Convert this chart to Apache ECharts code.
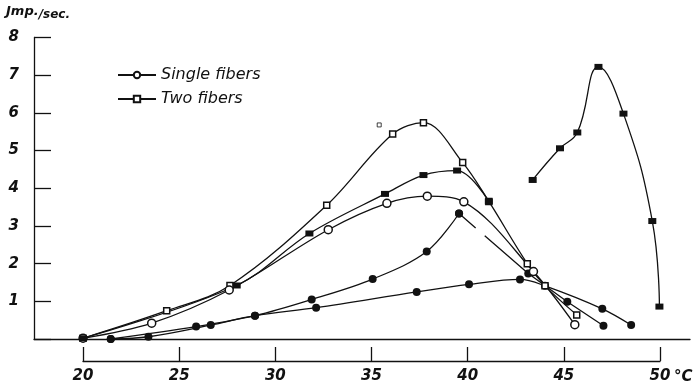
<!DOCTYPE html>
<html>
<head>
<meta charset="utf-8">
<script src="https://cdn.jsdelivr.net/npm/echarts@6/dist/echarts.min.js"></script>
<style>
  html, body { margin: 0; background: #fff; }
  #chart { width: 693px; height: 384px; }
</style>
</head>
<body>
<div id="chart"></div>
<script>
// temperature ticks (°C) and impulse ticks
const xTicks = [20, 25, 30, 35, 40, 45, 50];
const yTicks = [1, 2, 3, 4, 5, 6, 7, 8];

// two fibers, open squares (tallest curve)
const twoFibers = [[20, 0.02], [24.35, 0.75], [27.64, 1.42], [32.67, 3.55], [36.1, 5.44], [37.7, 5.74],
  [39.74, 4.68], [41.1, 3.65], [43.1, 2.0], [44.02, 1.41], [45.67, 0.64]];
// filled squares, peak ~4.5
const twoFibersB = [[20, 0.02], [27.99, 1.42], [31.77, 2.8], [35.7, 3.85], [37.7, 4.35], [39.45, 4.47], [41.1, 3.65]];
// single fibers, open circles
const singleFibers = [[20, 0.02], [23.57, 0.42], [27.6, 1.3], [32.75, 2.9], [35.8, 3.6], [37.9, 3.79],
  [39.8, 3.64], [43.42, 1.79], [45.57, 0.38]];
// filled circles, peak ~3.3 then the broken descent
const curveD = [[21.44, 0], [25.88, 0.33], [28.94, 0.62], [31.89, 1.05], [35.06, 1.59], [37.87, 2.32], [39.55, 3.33]];
const curveDTail = [[39.55, 3.33], [43.15, 1.74], [45.18, 0.99], [47.06, 0.35]];
// filled circles, flat curve
const curveE = [[21.44, 0], [23.4, 0.06], [26.64, 0.37], [28.94, 0.62], [32.12, 0.83], [37.35, 1.25],
  [40.07, 1.45], [42.72, 1.58], [44.02, 1.41], [47.0, 0.8], [48.5, 0.37]];
// filled squares, right-hand peak ~7.2
const curveF = [[43.38, 4.22], [44.8, 5.06], [45.7, 5.48], [46.8, 7.22], [48.1, 5.98], [49.6, 3.13], [49.97, 0.86]];
const strayPoint = [[35.4, 5.68]];

const ink = '#111';
const labelFont = {color: ink, fontFamily: 'DejaVu Sans', fontWeight: 'bold', fontStyle: 'italic', fontSize: 15};

const openSquare = {symbol: 'rect', symbolSize: 6, itemStyle: {color: '#fff', borderColor: ink, borderWidth: 1.5}};
const filledRect = {symbol: 'rect', symbolSize: [8, 6], itemStyle: {color: ink}};
const openCircle = {symbol: 'circle', symbolSize: 8, itemStyle: {color: '#fff', borderColor: ink, borderWidth: 1.5}};
const filledCircle = {symbol: 'circle', symbolSize: 8, itemStyle: {color: ink}};

function curve(name, data, marker, extra) {
  return Object.assign({
    name, type: 'line', data, smooth: 0.35, showAllSymbol: true,
    lineStyle: {color: ink, width: 1.3}
  }, marker, extra || {});
}

const chart = echarts.init(document.getElementById('chart'));
chart.setOption({
  animation: false,
  backgroundColor: '#fff',
  grid: [
    {left: 34, right: 3, top: 37.5, bottom: 45},
    {left: 83, right: 33, top: 349, bottom: 21}
  ],
  xAxis: [
    {
      gridIndex: 0, type: 'value', min: 17.45, max: 51.56,
      axisLine: {lineStyle: {color: ink, width: 1.3}},
      axisTick: {show: false}, axisLabel: {show: false}, splitLine: {show: false}
    },
    {
      gridIndex: 1, type: 'value', min: xTicks[0], max: xTicks[xTicks.length - 1], interval: 5,
      axisLine: {lineStyle: {color: ink, width: 1.3}},
      axisTick: {inside: true, length: 14, lineStyle: {color: ink, width: 1.3}},
      axisLabel: Object.assign({margin: 8}, labelFont),
      splitLine: {show: false}
    }
  ],
  yAxis: [
    {
      gridIndex: 0, type: 'value', min: 0, max: yTicks[yTicks.length - 1], interval: 1,
      axisLine: {show: true, lineStyle: {color: ink, width: 1.3}},
      axisTick: {inside: true, length: 17, lineStyle: {color: ink, width: 1.3}},
      axisLabel: Object.assign({margin: 15, formatter: v => yTicks.includes(v) ? String(v) : ''}, labelFont),
      splitLine: {show: false}
    },
    {gridIndex: 1, show: false, min: 0, max: 1}
  ],
  legend: {
    data: ['Single fibers', 'Two fibers'],
    orient: 'vertical', left: 112, top: 62, itemGap: 8, itemWidth: 38, itemHeight: 8,
    textStyle: {color: ink, fontFamily: 'DejaVu Sans', fontStyle: 'italic', fontSize: 16}
  },
  graphic: [
    {type: 'text', left: 6, top: 5, style: {
      text: '{a|Jmp.}{b|/sec.}',
      rich: {
        a: {fontFamily: 'DejaVu Sans', fontStyle: 'italic', fontWeight: 'bold', fontSize: 13, fill: ink},
        b: {fontFamily: 'DejaVu Sans', fontStyle: 'italic', fontWeight: 'bold', fontSize: 12, fill: ink, padding: [6, 0, 0, 0]}
      }
    }},
    {type: 'text', left: 674, top: 370, style: {text: '°C', fill: ink, font: 'italic bold 15px "DejaVu Sans"'}}
  ],
  series: [
    curve('E', curveE, filledCircle),
    curve('D', curveD, filledCircle),
    curve('D tail', curveDTail, filledCircle, {smooth: false, lineStyle: {color: ink, width: 1.3, type: [22, 12, 1000]}}),
    curve('F', curveF, filledRect, {smooth: 0.45}),
    curve('Two fibers', twoFibers, openSquare),
    curve('Single fibers', singleFibers, openCircle),
    curve('B', twoFibersB, filledRect),
    {type: 'scatter', data: strayPoint, symbol: 'rect', symbolSize: 4,
      itemStyle: {color: '#fff', borderColor: ink, borderWidth: 1}}
  ]
});
</script>
</body>
</html>
